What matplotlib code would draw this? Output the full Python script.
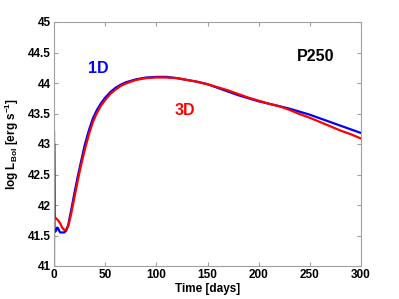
import matplotlib
matplotlib.use("Agg")
import matplotlib.pyplot as plt

plt.rcParams['font.family'] = ['Liberation Sans', 'DejaVu Sans']
plt.rcParams['font.weight'] = 'bold'
plt.rcParams['mathtext.fontset'] = 'custom'
plt.rcParams['mathtext.rm'] = 'Liberation Sans:bold'
plt.rcParams['mathtext.bf'] = 'Liberation Sans:bold'
plt.rcParams['mathtext.default'] = 'bf'

t_1d = [0, 0.4, 1, 2, 3, 4, 5, 6, 8, 10, 12, 14, 16, 18, 20, 23, 26, 30, 34, 38, 42, 46, 50, 55, 60, 65, 70, 80, 90, 100, 110, 120, 130, 140, 150, 160, 170, 180, 190, 200, 210, 220, 230, 240, 250, 260, 270, 280, 290, 300]
L_1d = [43.2, 41.6, 41.56, 41.58, 41.63, 41.62, 41.58, 41.55, 41.55, 41.55, 41.58, 41.68, 41.85, 42.02, 42.2, 42.45, 42.68, 42.98, 43.22, 43.42, 43.56, 43.67, 43.76, 43.85, 43.92, 43.97, 44.01, 44.06, 44.09, 44.1, 44.1, 44.08, 44.05, 44.02, 43.98, 43.92, 43.86, 43.8, 43.75, 43.7, 43.66, 43.62, 43.58, 43.53, 43.48, 43.42, 43.36, 43.3, 43.24, 43.18]

t_3d = [0, 0.15, 0.5, 1, 2, 4, 6, 8, 10, 12, 14, 16, 18, 20, 23, 26, 30, 34, 38, 42, 46, 50, 55, 60, 65, 70, 80, 90, 100, 110, 120, 130, 140, 150, 160, 170, 180, 190, 200, 210, 220, 230, 240, 250, 260, 270, 280, 290, 300]
L_3d = [40.8, 43.0, 41.85, 41.8, 41.78, 41.75, 41.7, 41.63, 41.59, 41.6, 41.66, 41.8, 41.96, 42.13, 42.38, 42.62, 42.9, 43.15, 43.36, 43.51, 43.63, 43.72, 43.82, 43.89, 43.95, 43.99, 44.05, 44.08, 44.09, 44.09, 44.08, 44.05, 44.02, 43.98, 43.93, 43.88, 43.82, 43.76, 43.71, 43.66, 43.62, 43.56, 43.49, 43.43, 43.36, 43.29, 43.22, 43.16, 43.09]

x_ticks = [0, 50, 100, 150, 200, 250, 300]
y_ticks = [41, 41.5, 42, 42.5, 43, 43.5, 44, 44.5, 45]
y_labels = ['41', '41.5', '42', '42.5', '43', '43.5', '44', '44.5', '45']

fig = plt.figure(figsize=(3.99, 2.99), dpi=100)
ax = fig.add_axes([54/399, 1 - 266/299, (361-54)/399, (266-22)/299])

ax.plot(t_1d, L_1d, color='#0000ff', lw=1.6)
ax.plot(t_3d, L_3d, color='#ff0000', lw=1.6)

ax.set_xlim(0, 300)
ax.set_ylim(41, 45)
ax.set_xticks(x_ticks)
ax.set_yticks(y_ticks)
ax.set_yticklabels(y_labels)
for s in ax.spines.values():
    s.set_color('#a0a0a0')
    s.set_linewidth(0.8)
ax.tick_params(direction='in', length=3, width=0.8, color='#a0a0a0',
               top=True, right=True, labelsize=8.5, pad=2.5)

ax.set_xlabel('Time [days]', fontsize=8.5, fontweight='bold', labelpad=1)
ax.set_ylabel(r'log L$_{Bol}$ [erg s$^{-1}$]', fontsize=8.5, fontweight='bold', labelpad=5)

ax.text(43, 44.23, '1D', color='#0000ff', fontsize=11.5, fontweight='bold', ha='center', va='center')
ax.text(128, 43.55, '3D', color='#ff0000', fontsize=11.5, fontweight='bold', ha='center', va='center')
ax.text(256, 44.43, 'P250', color='black', fontsize=11.5, fontweight='bold', ha='center', va='center')

fig.savefig('out.png', dpi=100)
